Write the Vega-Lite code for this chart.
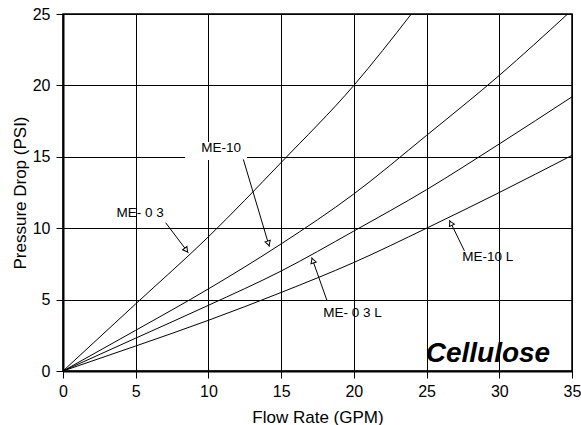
{
  "$schema": "https://vega.github.io/schema/vega-lite/v6.json",
  "width": 509,
  "height": 357,
  "autosize": "none",
  "padding": {"left": 63, "top": 14, "right": 9, "bottom": 54},
  "background": "white",
  "config": {
    "view": {"stroke": "black", "strokeWidth": 1.5},
    "font": "Liberation Sans",
    "axis": {
      "domainColor": "black",
      "domainWidth": 2,
      "tickColor": "black",
      "tickWidth": 1,
      "gridColor": "black",
      "gridWidth": 1,
      "labelColor": "black",
      "labelFontSize": 16,
      "titleFontSize": 17,
      "titleFontWeight": "normal",
      "titleColor": "black",
      "labelOverlap": false,
      "labelFlush": false
    }
  },
  "datasets": {
    "curves": [
      {"series": "ME-03", "x": 0, "y": 0},
      {"series": "ME-03", "x": 5, "y": 4.7},
      {"series": "ME-03", "x": 10, "y": 9.4},
      {"series": "ME-03", "x": 15, "y": 14.6},
      {"series": "ME-03", "x": 20, "y": 20.0},
      {"series": "ME-03", "x": 23.95, "y": 25},
      {"series": "ME-10", "x": 0, "y": 0},
      {"series": "ME-10", "x": 5, "y": 2.85},
      {"series": "ME-10", "x": 10, "y": 5.75},
      {"series": "ME-10", "x": 15, "y": 8.9},
      {"series": "ME-10", "x": 20, "y": 12.4},
      {"series": "ME-10", "x": 25, "y": 16.5},
      {"series": "ME-10", "x": 30, "y": 20.7},
      {"series": "ME-10", "x": 34.7, "y": 25},
      {"series": "ME-03L", "x": 0, "y": 0},
      {"series": "ME-03L", "x": 5, "y": 2.3},
      {"series": "ME-03L", "x": 10, "y": 4.6},
      {"series": "ME-03L", "x": 15, "y": 7.0},
      {"series": "ME-03L", "x": 20, "y": 9.8},
      {"series": "ME-03L", "x": 25, "y": 12.7},
      {"series": "ME-03L", "x": 30, "y": 15.9},
      {"series": "ME-03L", "x": 35, "y": 19.2},
      {"series": "ME-10L", "x": 0, "y": 0},
      {"series": "ME-10L", "x": 5, "y": 1.75},
      {"series": "ME-10L", "x": 10, "y": 3.55},
      {"series": "ME-10L", "x": 15, "y": 5.5},
      {"series": "ME-10L", "x": 20, "y": 7.6},
      {"series": "ME-10L", "x": 25, "y": 10.0},
      {"series": "ME-10L", "x": 30, "y": 12.5},
      {"series": "ME-10L", "x": 35, "y": 15.1}
    ],
    "box": [{"x": 8.4, "x2": 12.65, "y": 14.78, "y2": 16.04}],
    "labels": [
      {"text": "ME-10", "x": 10.87, "y": 15.6},
      {"text": "ME- 0 3", "x": 5.3, "y": 11.06},
      {"text": "ME- 0 3 L", "x": 19.9, "y": 4.06},
      {"text": "ME-10 L", "x": 29.2, "y": 7.98}
    ],
    "arrows": [
      {"x": 12.4, "y": 14.82, "x2": 14.19, "y2": 8.7, "hx": 14.12, "hy": 8.94, "angle": 163},
      {"x": 7.06, "y": 10.38, "x2": 8.62, "y2": 8.28, "hx": 8.47, "hy": 8.47, "angle": 143},
      {"x": 18.14, "y": 4.97, "x2": 17.1, "y2": 7.96, "hx": 17.18, "hy": 7.73, "angle": 341},
      {"x": 27.6, "y": 8.42, "x2": 26.57, "y2": 10.57, "hx": 26.67, "hy": 10.35, "angle": 334}
    ],
    "brand": [{"text": "Cellulose", "x": 33.5, "y": 0.63}]
  },
  "layer": [
    {
      "data": {"name": "curves"},
      "mark": {"type": "line", "color": "black", "strokeWidth": 1, "interpolate": "monotone", "clip": true},
      "encoding": {
        "x": {
          "field": "x", "type": "quantitative", "title": "Flow Rate (GPM)",
          "scale": {"domain": [0, 35], "nice": false},
          "axis": {
            "values": [0, 2.5, 5, 7.5, 10, 12.5, 15, 17.5, 20, 22.5, 25, 27.5, 30, 32.5, 35],
            "labelExpr": "datum.value % 5 === 0 ? datum.label : ''",
            "gridOpacity": {"condition": {"test": "datum.value % 5 === 0", "value": 1}, "value": 0},
            "tickSize": {"condition": {"test": "datum.value % 5 === 0", "value": 7}, "value": 5},
            "labelPadding": 5,
            "titlePadding": 10
          }
        },
        "y": {
          "field": "y", "type": "quantitative", "title": "Pressure Drop (PSI)",
          "scale": {"domain": [0, 25], "nice": false},
          "axis": {
            "values": [0, 2.5, 5, 7.5, 10, 12.5, 15, 17.5, 20, 22.5, 25],
            "labelExpr": "datum.value % 5 === 0 ? datum.label : ''",
            "gridOpacity": {"condition": {"test": "datum.value % 5 === 0", "value": 1}, "value": 0},
            "tickSize": {"condition": {"test": "datum.value % 5 === 0", "value": 7}, "value": 5},
            "labelPadding": 6,
            "titlePadding": 3
          }
        },
        "detail": {"field": "series"}
      }
    },
    {
      "data": {"name": "box"},
      "mark": {"type": "rect", "fill": "white"},
      "encoding": {
        "x": {"field": "x", "type": "quantitative", "title": "Flow Rate (GPM)"},
        "x2": {"field": "x2"},
        "y": {"field": "y", "type": "quantitative", "title": "Pressure Drop (PSI)"},
        "y2": {"field": "y2"}
      }
    },
    {
      "data": {"name": "arrows"},
      "mark": {"type": "rule", "color": "black", "strokeWidth": 1},
      "encoding": {
        "x": {"field": "x", "type": "quantitative", "title": "Flow Rate (GPM)"},
        "x2": {"field": "x2"},
        "y": {"field": "y", "type": "quantitative", "title": "Pressure Drop (PSI)"},
        "y2": {"field": "y2"}
      }
    },
    {
      "data": {"name": "arrows"},
      "mark": {"type": "point", "shape": "triangle-up", "filled": true, "fill": "white", "stroke": "black", "strokeWidth": 1, "size": 30, "opacity": 1},
      "encoding": {
        "x": {"field": "hx", "type": "quantitative", "title": "Flow Rate (GPM)"},
        "y": {"field": "hy", "type": "quantitative", "title": "Pressure Drop (PSI)"},
        "angle": {"field": "angle", "type": "quantitative", "scale": null}
      }
    },
    {
      "data": {"name": "labels"},
      "mark": {"type": "text", "fontSize": 13.5, "color": "black", "align": "center", "baseline": "middle"},
      "encoding": {
        "x": {"field": "x", "type": "quantitative", "title": "Flow Rate (GPM)"},
        "y": {"field": "y", "type": "quantitative", "title": "Pressure Drop (PSI)"},
        "text": {"field": "text"}
      }
    },
    {
      "data": {"name": "brand"},
      "mark": {"type": "text", "fontSize": 28, "fontWeight": "bold", "fontStyle": "italic", "color": "black", "align": "right", "baseline": "alphabetic"},
      "encoding": {
        "x": {"field": "x", "type": "quantitative", "title": "Flow Rate (GPM)"},
        "y": {"field": "y", "type": "quantitative", "title": "Pressure Drop (PSI)"},
        "text": {"field": "text"}
      }
    }
  ]
}
